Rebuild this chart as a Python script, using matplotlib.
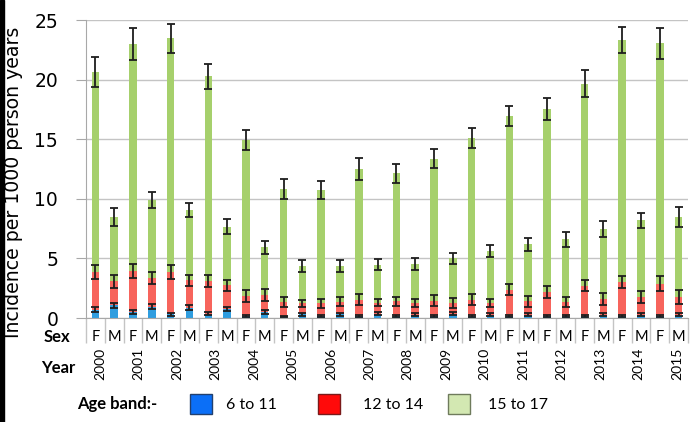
import matplotlib
matplotlib.use("Agg")
import matplotlib.pyplot as plt
import matplotlib.transforms as mtransforms
from matplotlib.patches import Rectangle
import numpy as np

# bars run 2000 F, 2000 M, 2001 F, 2001 M ... 2015 M
years = [str(y) for y in range(2000, 2016)]
sexes = ["F", "M"]
age_bands = ["6 to 11", "12 to 14", "15 to 17"]

# incidence per 1000 person years (segment heights)
rate_6_11 = [0.71, 1.08, 0.51, 0.94, 0.31, 0.88, 0.37, 0.74, 0.14, 0.51, 0.11, 0.31, 0.14, 0.31, 0.14, 0.37,
             0.14, 0.28, 0.20, 0.37, 0.20, 0.28, 0.20, 0.28, 0.20, 0.20, 0.20, 0.28, 0.20, 0.28, 0.20, 0.28]
rate_12_14 = [3.15, 1.99, 3.41, 2.41, 3.55, 2.27, 2.70, 1.99, 1.71, 1.42, 1.25, 0.91, 1.08, 1.05, 1.41, 0.90,
              1.26, 0.99, 1.26, 0.90, 1.35, 0.99, 2.19, 1.12, 1.96, 1.12, 2.52, 1.32, 2.80, 1.49, 2.69, 1.49]
rate_15_17 = [16.79, 5.38, 19.08, 6.55, 19.59, 5.92, 17.23, 4.93, 13.10, 3.99, 9.47, 3.16, 9.53, 3.02, 10.95, 3.19,
              10.74, 3.27, 11.91, 3.75, 13.58, 4.33, 14.54, 4.77, 15.36, 5.27, 16.95, 5.88, 20.32, 6.41, 20.15, 6.69]

# error bars (half width)
err_6_11 = [0.20, 0.20, 0.15, 0.20, 0.12, 0.20, 0.12, 0.18, 0.08, 0.15, 0.06, 0.12, 0.08, 0.12, 0.08, 0.12,
            0.08, 0.10, 0.08, 0.12, 0.08, 0.10, 0.08, 0.10, 0.08, 0.08, 0.08, 0.10, 0.08, 0.10, 0.08, 0.10]
err_12_14 = [0.62, 0.55, 0.57, 0.50, 0.55, 0.45, 0.50, 0.47, 0.50, 0.48, 0.44, 0.30, 0.38, 0.37, 0.45, 0.30,
             0.40, 0.33, 0.44, 0.40, 0.45, 0.36, 0.50, 0.45, 0.50, 0.42, 0.45, 0.50, 0.50, 0.48, 0.60, 0.60]
err_15_17 = [1.25, 0.75, 1.35, 0.65, 1.20, 0.60, 1.05, 0.65, 0.85, 0.55, 0.85, 0.50, 0.75, 0.50, 0.90, 0.45,
             0.80, 0.50, 0.80, 0.45, 0.85, 0.50, 0.85, 0.55, 0.95, 0.60, 1.10, 0.65, 1.10, 0.65, 1.30, 0.85]

bar_colors = ["#2f9ddf", "#f7645c", "#a6d06c"]
key_colors = ["#0b6ff7", "#ff0a0a", "#d3e8b2"]
key_edges = ["#22406e", "#7a1a1a", "#6f7b5c"]

W, H = 690, 422
fig = plt.figure(figsize=(W / 100, H / 100), dpi=100)
ax = fig.add_axes([86 / W, 1 - 318 / H, 602 / W, 298 / H])

x = np.arange(len(rate_6_11))
b1 = np.array(rate_6_11)
b2 = b1 + np.array(rate_12_14)
ekw = dict(ecolor="#1e1e1e", capsize=3.2, elinewidth=1.3, capthick=1.3, zorder=4)

ax.bar(x, rate_6_11, width=0.4, color=bar_colors[0], yerr=err_6_11, error_kw=ekw, zorder=2)
ax.bar(x, rate_12_14, width=0.4, bottom=b1, color=bar_colors[1], yerr=err_12_14, error_kw=ekw, zorder=2)
ax.bar(x, rate_15_17, width=0.4, bottom=b2, color=bar_colors[2], yerr=err_15_17, error_kw=ekw, zorder=2)

ax.set_xlim(-0.5, len(x) - 0.5)
ax.set_ylim(0, 25)
ax.set_yticks([0, 5, 10, 15, 20, 25])
ax.yaxis.grid(True, color="#c4c4c4", lw=1)
ax.set_axisbelow(True)
for s in ["top", "right"]:
    ax.spines[s].set_visible(False)
for s in ["left", "bottom"]:
    ax.spines[s].set_color("#a8a8a8")
ax.tick_params(axis="y", length=7, color="#a8a8a8", labelsize=13.5, pad=13)
ax.set_xticks([])
ax.set_xticks(np.arange(-0.5, len(x), 1), minor=True)
ax.tick_params(axis="x", which="minor", length=18, color="#c4c4c4", width=1)

# sex labels under each bar
trans = mtransforms.blended_transform_factory(ax.transData, ax.transAxes)
for i in x:
    ax.text(i, -0.064, sexes[i % 2], transform=trans, ha="center", va="center",
            fontsize=10.5, family="Lato")

# year labels
for k, yr in enumerate(years):
    px = 100 + k * (677 - 100) / 15
    fig.text(px / W, 1 - 364 / H, yr, rotation=90, ha="center", va="center",
             fontsize=10, family="Lato")

fig.text(57 / W, 1 - 337 / H, "Sex", ha="center", va="center", fontsize=12,
         fontweight="bold", family="Lato")
fig.text(58 / W, 1 - 368 / H, "Year", ha="center", va="center", fontsize=12,
         fontweight="bold", family="Lato")
fig.text(14 / W, 1 - 182 / H, "Incidence per 1000 person years", rotation=90,
         ha="center", va="center", fontsize=13.6)

# legend row
fig.text(117 / W, 1 - 404 / H, "Age band:-", ha="center", va="center", fontsize=12,
         fontweight="bold", family="Lato")
for left, tx, c, ec, lab in zip([190, 318, 448], [226, 363, 488], key_colors, key_edges, age_bands):
    fig.add_artist(Rectangle((left / W, 1 - 414 / H), 22 / W, 20 / H, transform=fig.transFigure,
                             facecolor=c, edgecolor=ec, lw=1))
    fig.text(tx / W, 1 - 405 / H, lab, ha="left", va="center", fontsize=11.5, family="Lato")

# dark strip on the left edge
fig.add_artist(Rectangle((0, 0), 4 / W, 1, transform=fig.transFigure, color="black"))

fig.savefig("out.png", dpi=100)
